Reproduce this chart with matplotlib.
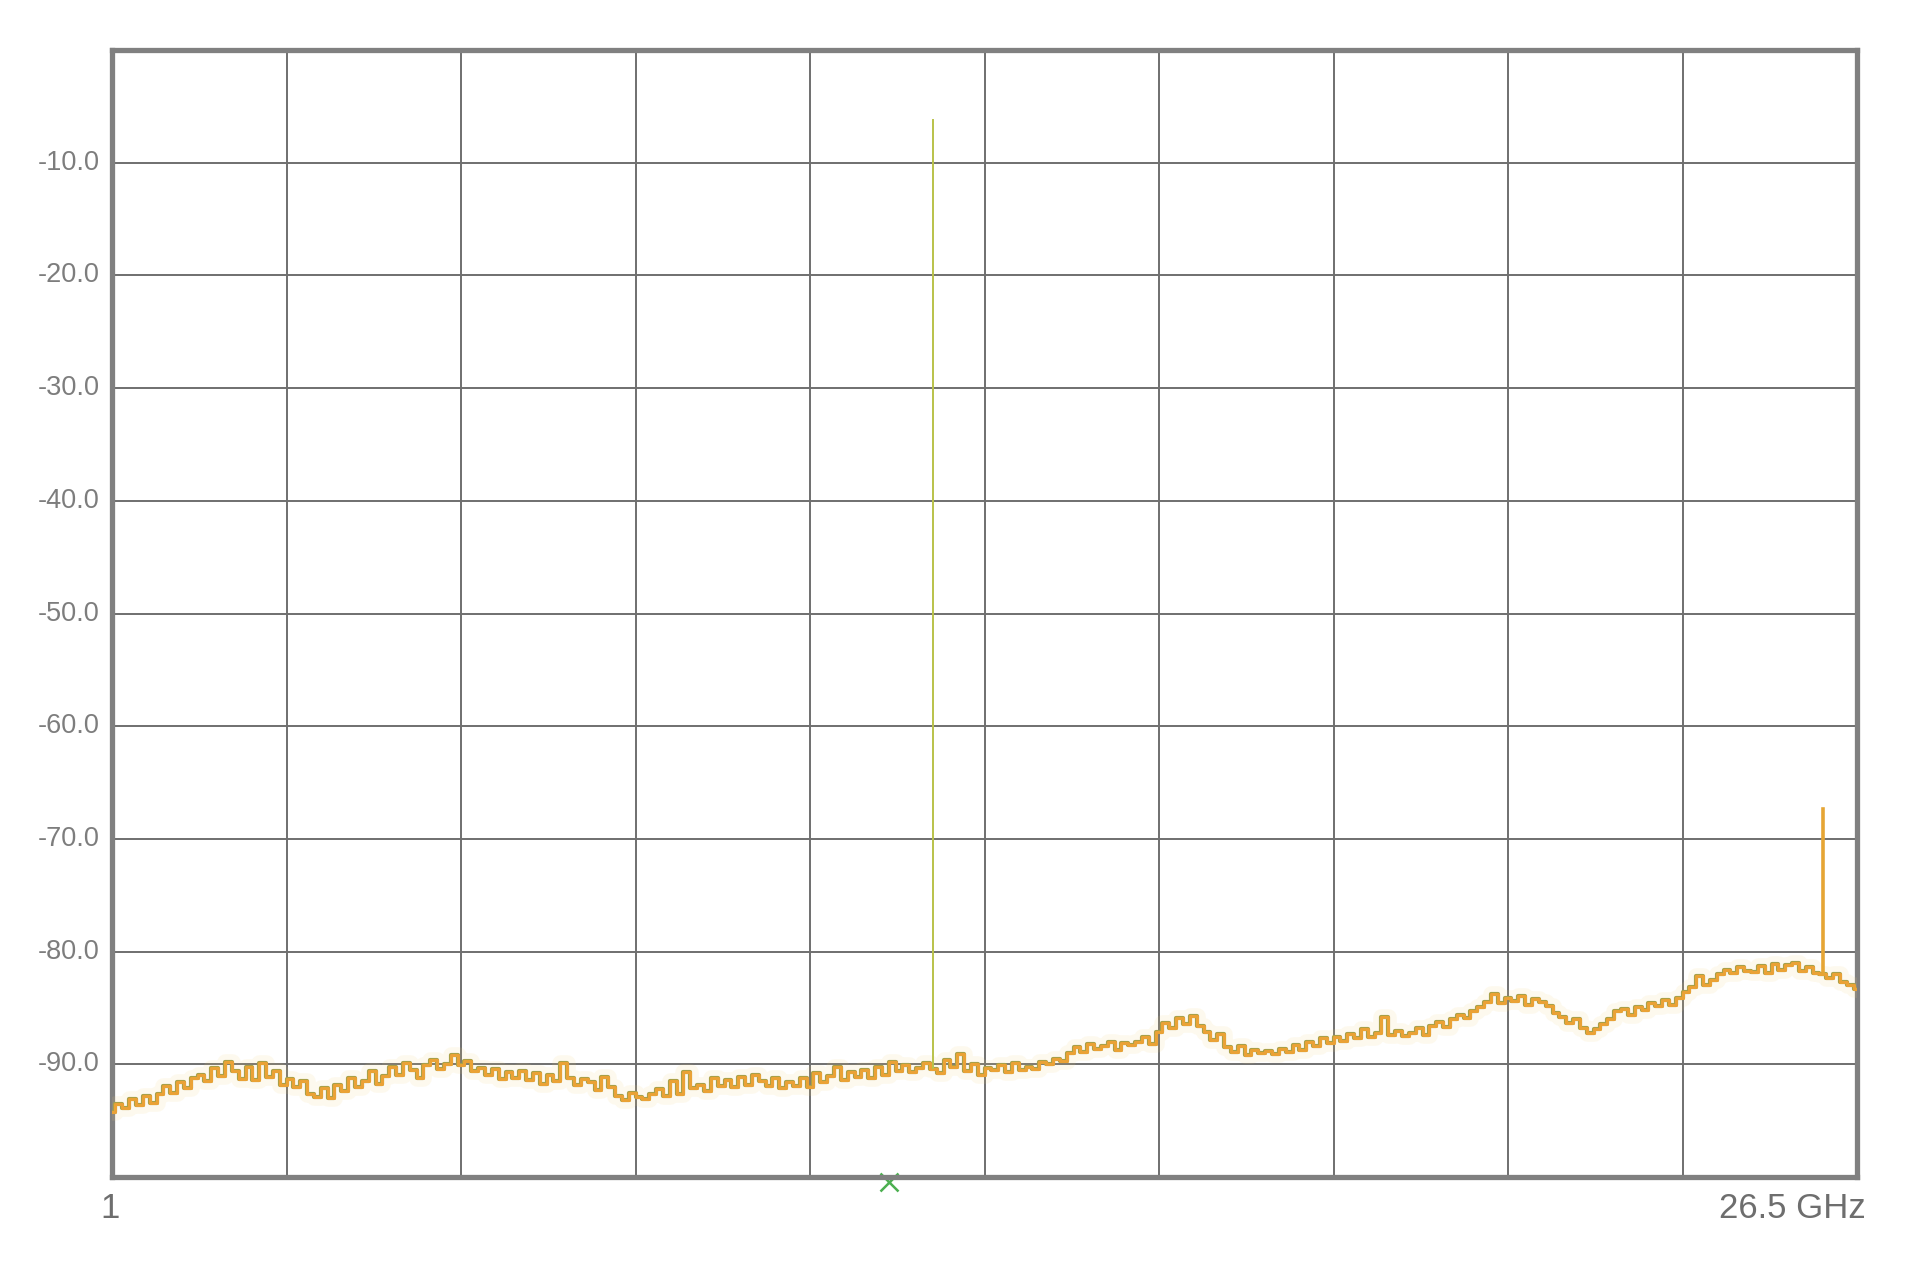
import numpy as np
import matplotlib
matplotlib.use("Agg")
from matplotlib import pyplot as plt

# sweep 1 .. 26.5 GHz, levels in dBm (0.1 GHz steps)
F_START = 1.0
F_STOP = 26.5
trace_dbm = [
    -94.2, -93.5, -93.9, -93.1, -93.6, -92.8, -93.4, -92.6, -91.9, -92.5,
    -91.6, -92.1, -91.2, -90.9, -91.5, -90.3, -91.0, -89.8, -90.6, -91.3,
    -90.2, -91.4, -89.9, -91.1, -90.6, -91.8, -91.3, -92.0, -91.5, -92.6,
    -92.9, -92.1, -93.0, -91.8, -92.4, -91.2, -92.0, -91.5, -90.6, -91.7,
    -91.0, -90.2, -90.9, -89.9, -90.5, -91.2, -90.1, -89.6, -90.4, -90.0,
    -89.2, -90.1, -89.7, -90.6, -90.3, -90.9, -90.4, -91.3, -90.7, -91.2,
    -90.6, -91.4, -90.8, -91.7, -90.9, -91.5, -89.9, -91.2, -91.8, -91.3,
    -91.6, -92.3, -91.1, -92.0, -92.8, -93.2, -92.5, -92.9, -93.1, -92.6,
    -92.2, -92.8, -91.5, -92.6, -90.7, -92.1, -91.8, -92.4, -91.2, -91.9,
    -91.4, -92.0, -91.1, -91.8, -90.9, -91.5, -91.9, -91.2, -92.1, -91.6,
    -91.9, -91.2, -92.0, -90.8, -91.6, -91.0, -90.2, -91.4, -90.7, -91.1,
    -90.5, -91.2, -90.2, -90.9, -89.8, -90.6, -90.1, -90.7, -90.3, -89.9,
    -90.4, -90.8, -89.6, -90.2, -89.1, -90.6, -90.0, -90.9, -90.3, -90.5,
    -90.1, -90.7, -89.9, -90.5, -90.2, -90.4, -89.8, -90.0, -89.5, -89.7,
    -89.0, -88.5, -88.9, -88.2, -88.6, -88.4, -88.0, -88.7, -88.1, -88.3,
    -88.0, -87.6, -88.2, -87.1, -86.3, -86.8, -85.9, -86.4, -85.7, -86.6,
    -87.1, -87.8, -87.3, -88.5, -88.9, -88.4, -89.2, -88.7, -89.0, -88.8,
    -89.1, -88.6, -88.9, -88.3, -88.7, -88.0, -88.4, -87.7, -88.1, -87.6,
    -87.9, -87.3, -87.7, -86.9, -87.6, -87.2, -85.8, -87.4, -87.0, -87.5,
    -87.2, -86.8, -87.4, -86.6, -86.2, -86.7, -86.0, -85.6, -85.9, -85.3,
    -84.9, -84.5, -83.8, -84.6, -84.1, -84.4, -83.9, -84.7, -84.2, -84.5,
    -84.8, -85.4, -85.8, -86.3, -86.0, -86.8, -87.2, -86.9, -86.4, -86.0,
    -85.3, -85.1, -85.6, -84.9, -85.2, -84.6, -84.8, -84.3, -84.7, -84.1,
    -83.6, -83.1, -82.2, -83.0, -82.5, -82.0, -81.6, -81.9, -81.4, -81.7,
    -81.8, -81.3, -81.9, -81.1, -81.6, -81.2, -81.0, -81.7, -81.4, -81.9,
    -82.0, -82.3, -82.0, -82.7, -83.0, -83.3,
]

# carriers sticking out of the noise floor
spike_ghz = [13.0, 26.0]
spike_base = [-90.3, -82.0]
spike_peak = [-6.2, -67.3]
spike_colors = ["#b9c24a", "#e6a534"]
spike_widths = [1.4, 2.6]

marker_ghz = 12.35

y_ticks = [-10, -20, -30, -40, -50, -60, -70, -80, -90]
x_start_label = "1"
x_stop_label = "26.5 GHz"

freqs = np.linspace(F_START, F_STOP, len(trace_dbm))

fig = plt.figure(figsize=(19.09, 12.62), dpi=100)
ax = fig.add_axes([0.0587, 0.0673, 0.9141, 0.8931])

ax.set_xlim(F_START, F_STOP)
ax.set_ylim(-100, 0)

# 10 x 10 graticule
ax.set_xticks(np.linspace(F_START, F_STOP, 11))
ax.set_yticks(np.arange(-100, 1, 10))
ax.grid(True, color="#6f6f6f", linewidth=1.4)
ax.tick_params(length=0, labelbottom=False, labelleft=False)

for s in ax.spines.values():
    s.set_color("#808080")
    s.set_linewidth(3.8)

# faint glow + trace
ax.plot(freqs, trace_dbm, drawstyle="steps-mid", color="#f5d27a",
        linewidth=12, alpha=0.12, zorder=3)
ax.plot(freqs, trace_dbm, drawstyle="steps-mid", color="#a8a048",
        linewidth=3.0, zorder=3)
ax.plot(freqs, trace_dbm, drawstyle="steps-mid", color="#eaa236",
        linewidth=2.2, zorder=4)

for f, b, p, c, w in zip(spike_ghz, spike_base, spike_peak, spike_colors, spike_widths):
    ax.plot([f, f], [b, p], color=c, linewidth=w, zorder=5)

ax.plot(marker_ghz, -100.45, marker="x", color="#4caf50", markersize=13,
        markeredgewidth=1.8, clip_on=False, zorder=1)

lab_font = dict(family="Liberation Sans", color="#7d7d7d")
for v in y_ticks:
    ax.text(-0.007, (v + 100) / 100.0, "%.1f" % v, transform=ax.transAxes,
            ha="right", va="center", fontsize=19.5, **lab_font)

bot_font = dict(family="Liberation Sans", color="#6e6e6e")
ax.text(-0.001, -0.028, x_start_label, transform=ax.transAxes,
        ha="center", va="center", fontsize=25, **bot_font)
ax.text(1.005, -0.028, x_stop_label, transform=ax.transAxes,
        ha="right", va="center", fontsize=25, **bot_font)

fig.savefig("out.png", dpi=100, facecolor="white")
